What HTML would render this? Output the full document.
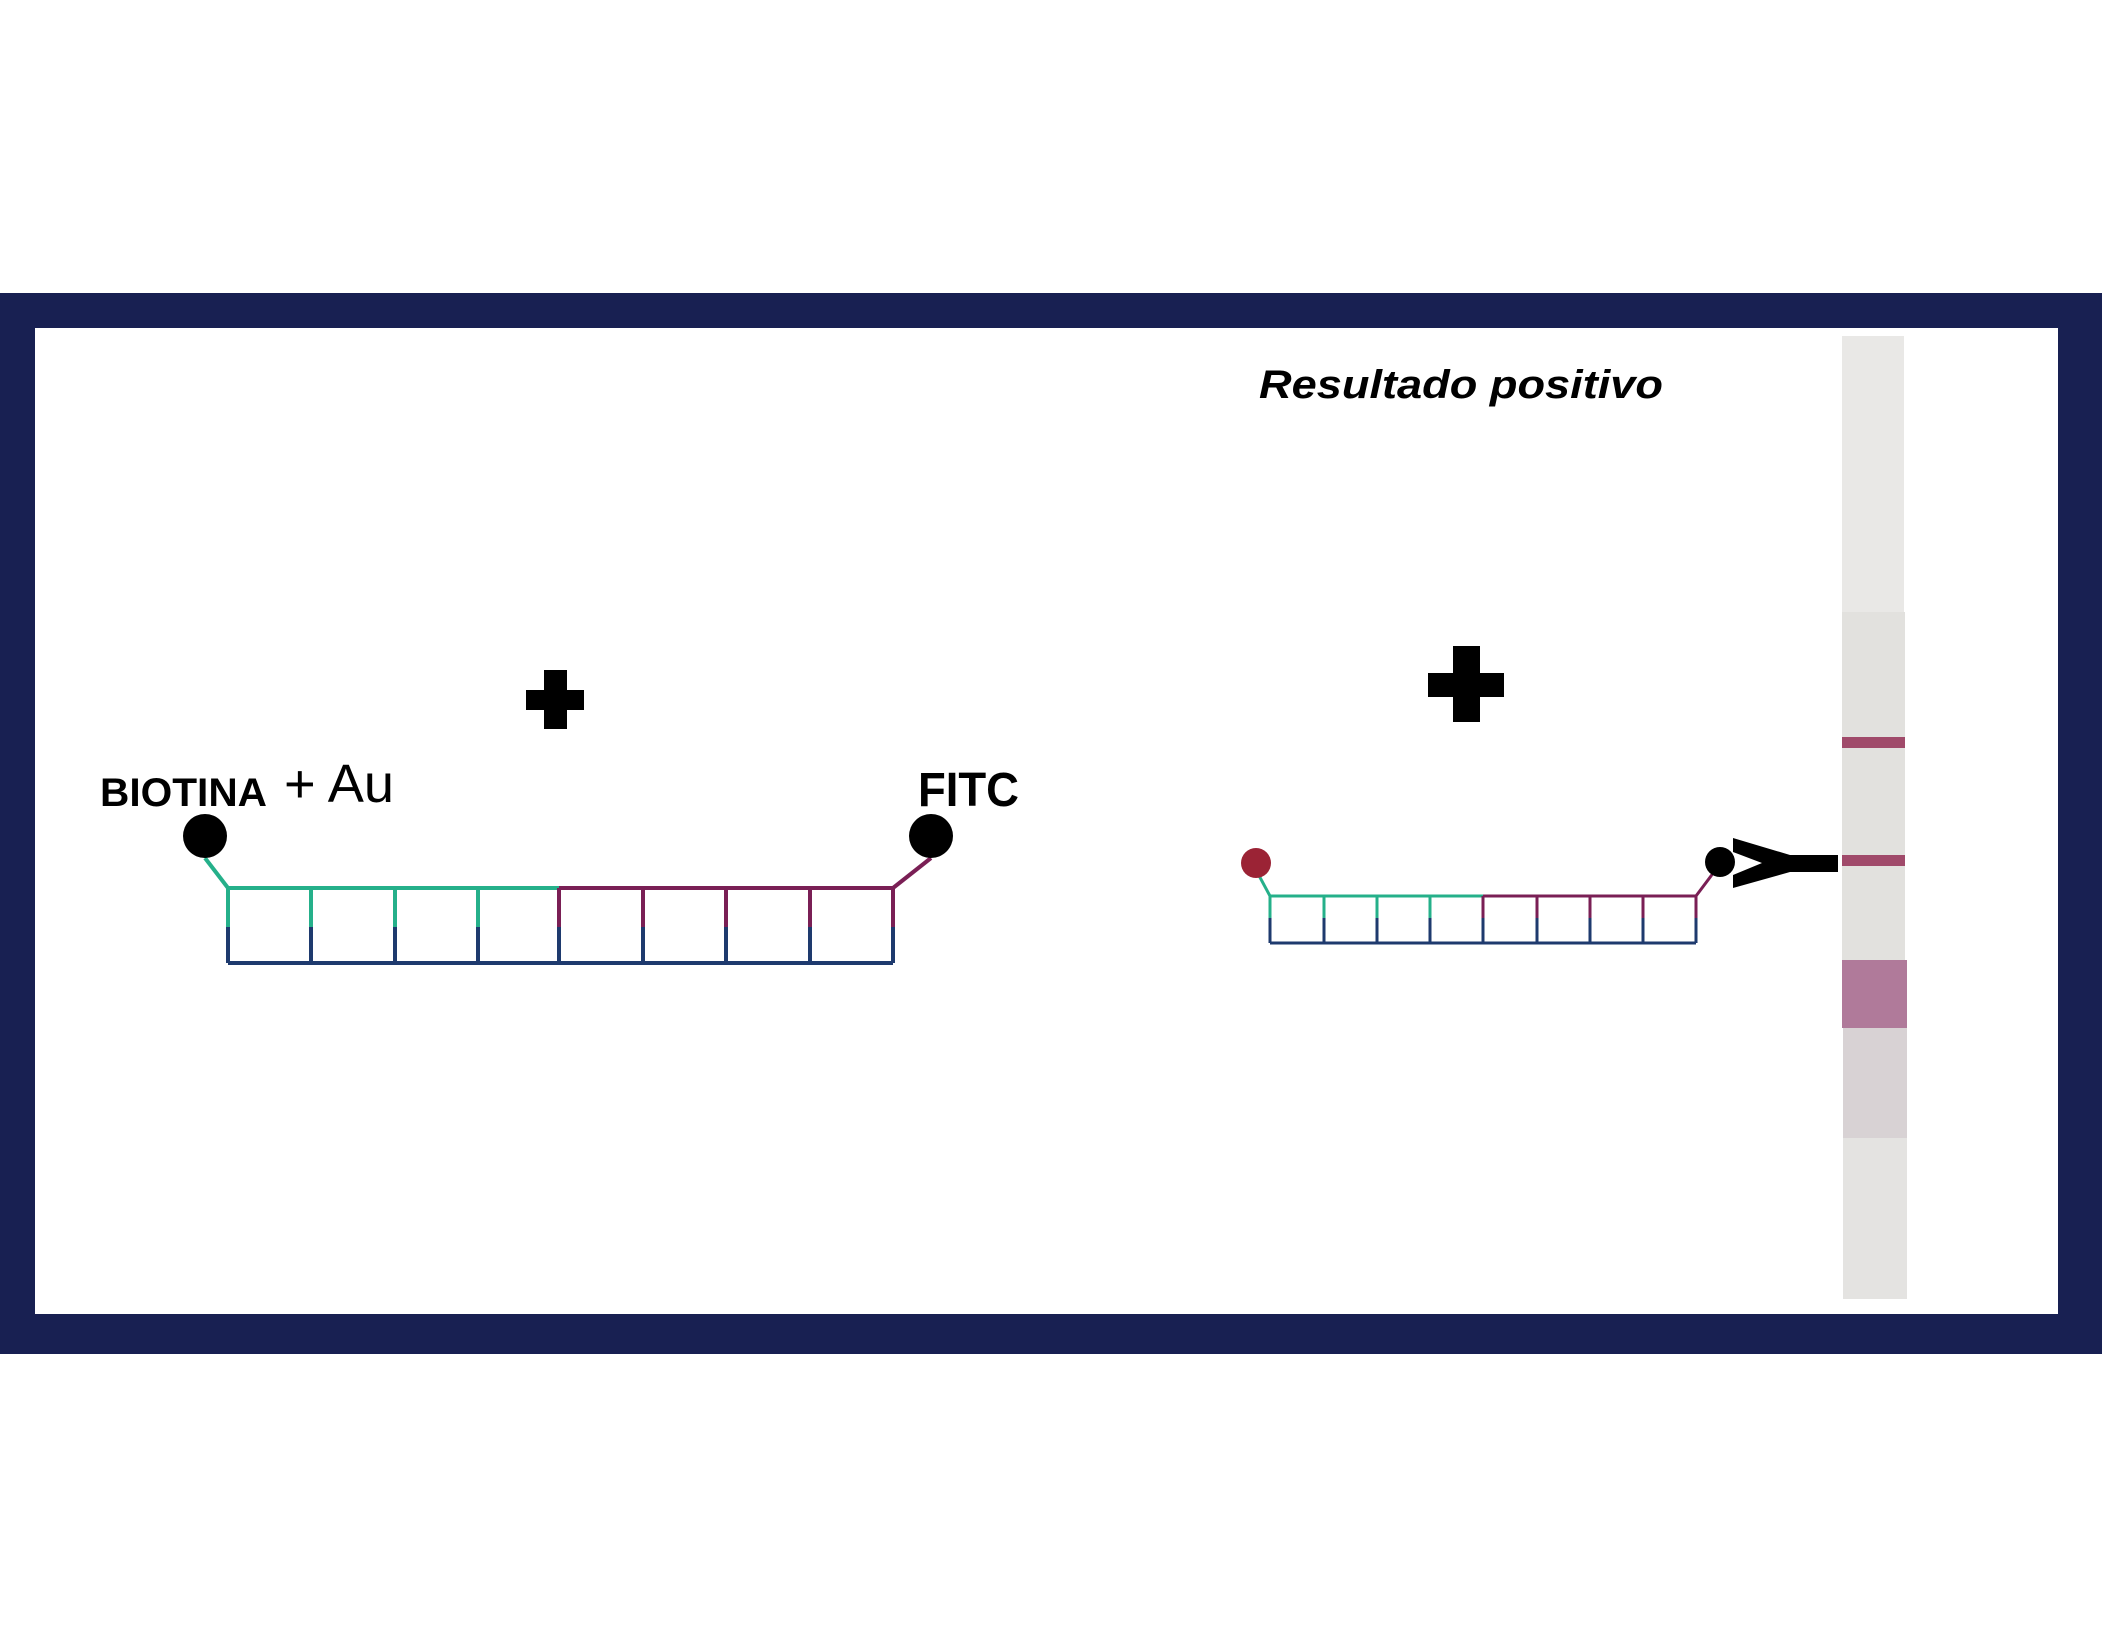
<!DOCTYPE html>
<html><head><meta charset="utf-8"><style>
html,body{margin:0;padding:0;background:#fff;}
svg{display:block;}
</style></head><body>
<svg width="2102" height="1648" viewBox="0 0 2102 1648" xmlns="http://www.w3.org/2000/svg">
<rect x="0" y="0" width="2102" height="1648" fill="#fff"/>
<rect x="0" y="293" width="2102" height="1061" fill="#182052"/>
<rect x="35" y="328" width="2023" height="986" fill="#fff"/>

<!-- left plus -->
<rect x="544" y="670" width="23" height="59" fill="#000"/>
<rect x="526" y="690" width="58" height="20" fill="#000"/>

<text x="100" y="806" font-family="Liberation Sans, sans-serif" font-weight="bold" font-size="40" fill="#000" textLength="167" lengthAdjust="spacingAndGlyphs">BIOTINA</text>
<text x="284" y="802" font-family="Liberation Sans, sans-serif" font-size="54" fill="#000" textLength="110" lengthAdjust="spacingAndGlyphs">+ Au</text>
<text x="918" y="806" font-family="Liberation Sans, sans-serif" font-weight="bold" font-size="48" fill="#000" textLength="101" lengthAdjust="spacingAndGlyphs">FITC</text>

<!-- left ladder -->
<g stroke-width="4" fill="none">
<line x1="205" y1="858" x2="228" y2="888" stroke="#25b08a"/>
<line x1="931" y1="858" x2="893" y2="888" stroke="#7a1f55"/>
<line x1="228" y1="888" x2="559" y2="888" stroke="#25b08a"/>
<line x1="559" y1="888" x2="893" y2="888" stroke="#7a1f55"/>
<line x1="228" y1="963" x2="893" y2="963" stroke="#1e3a6e"/>
<g stroke="#25b08a">
<line x1="228" y1="888" x2="228" y2="927"/><line x1="311" y1="888" x2="311" y2="927"/>
<line x1="395" y1="888" x2="395" y2="927"/><line x1="478" y1="888" x2="478" y2="927"/>
</g>
<g stroke="#7a1f55">
<line x1="559" y1="888" x2="559" y2="927"/><line x1="643" y1="888" x2="643" y2="927"/>
<line x1="726" y1="888" x2="726" y2="927"/><line x1="810" y1="888" x2="810" y2="927"/>
<line x1="893" y1="888" x2="893" y2="927"/>
</g>
<g stroke="#1e3a6e">
<line x1="228" y1="927" x2="228" y2="963"/><line x1="311" y1="927" x2="311" y2="963"/>
<line x1="395" y1="927" x2="395" y2="963"/><line x1="478" y1="927" x2="478" y2="963"/>
<line x1="559" y1="927" x2="559" y2="963"/><line x1="643" y1="927" x2="643" y2="963"/>
<line x1="726" y1="927" x2="726" y2="963"/><line x1="810" y1="927" x2="810" y2="963"/>
<line x1="893" y1="927" x2="893" y2="963"/>
</g>
</g>
<circle cx="205" cy="836" r="22" fill="#000"/>
<circle cx="931" cy="836" r="22" fill="#000"/>

<!-- right side -->
<text x="1259" y="398" font-family="Liberation Sans, sans-serif" font-weight="bold" font-style="italic" font-size="40" fill="#000" textLength="404" lengthAdjust="spacingAndGlyphs">Resultado positivo</text>
<rect x="1453" y="646" width="27" height="76" fill="#000"/>
<rect x="1428" y="673" width="76" height="24" fill="#000"/>

<g stroke-width="3" fill="none">
<line x1="1256" y1="870" x2="1270" y2="896" stroke="#25b08a"/>
<line x1="1714" y1="872" x2="1696" y2="896" stroke="#7a1f55"/>
<line x1="1270" y1="896" x2="1483" y2="896" stroke="#25b08a"/>
<line x1="1483" y1="896" x2="1696" y2="896" stroke="#7a1f55"/>
<line x1="1270" y1="943" x2="1696" y2="943" stroke="#1e3a6e"/>
<g stroke="#25b08a">
<line x1="1270" y1="896" x2="1270" y2="918"/><line x1="1324" y1="896" x2="1324" y2="918"/>
<line x1="1377" y1="896" x2="1377" y2="918"/><line x1="1430" y1="896" x2="1430" y2="918"/>
</g>
<g stroke="#7a1f55">
<line x1="1483" y1="896" x2="1483" y2="918"/><line x1="1537" y1="896" x2="1537" y2="918"/>
<line x1="1590" y1="896" x2="1590" y2="918"/><line x1="1643" y1="896" x2="1643" y2="918"/>
<line x1="1696" y1="896" x2="1696" y2="918"/>
</g>
<g stroke="#1e3a6e">
<line x1="1270" y1="918" x2="1270" y2="943"/><line x1="1324" y1="918" x2="1324" y2="943"/>
<line x1="1377" y1="918" x2="1377" y2="943"/><line x1="1430" y1="918" x2="1430" y2="943"/>
<line x1="1483" y1="918" x2="1483" y2="943"/><line x1="1537" y1="918" x2="1537" y2="943"/>
<line x1="1590" y1="918" x2="1590" y2="943"/><line x1="1643" y1="918" x2="1643" y2="943"/>
<line x1="1696" y1="918" x2="1696" y2="943"/>
</g>
</g>
<circle cx="1256" cy="863" r="15" fill="#9b2335"/>
<circle cx="1720" cy="862" r="15" fill="#000"/>
<polygon points="1733,838 1790,855 1838,855 1838,872 1790,872 1733,888 1733,875 1762,863 1733,852" fill="#000"/>

<!-- strip -->
<rect x="1842" y="336" width="62" height="276" fill="#e9e8e6"/>
<rect x="1842" y="612" width="63" height="348" fill="#e2e1de"/>
<rect x="1842" y="960" width="65" height="68" fill="#b07a9a"/>
<rect x="1843" y="1028" width="64" height="110" fill="#d8d2d4"/>
<rect x="1843" y="1138" width="64" height="161" fill="#e4e3e1"/>
<rect x="1842" y="737" width="63" height="11" fill="#a04a6a"/>
<rect x="1842" y="855" width="63" height="11" fill="#a04a6a"/>
</svg>
</body></html>
